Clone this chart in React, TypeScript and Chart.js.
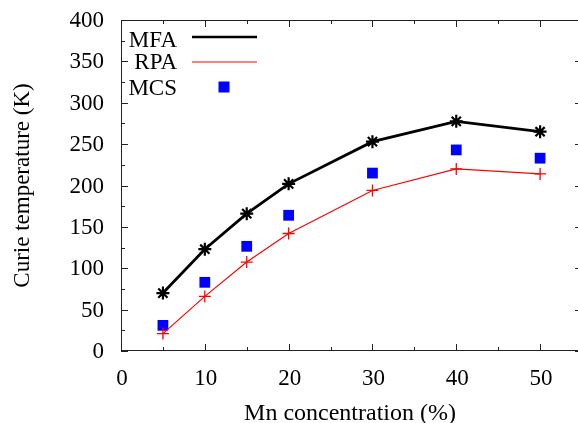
import React, { useEffect, useRef } from "react";
import { Chart, registerables } from "chart.js";

Chart.register(...registerables);

const mnConcentration = [5, 10, 15, 20, 30, 40, 50];
const mfaValues = [70, 123, 166, 202, 253, 277.5, 265];
const rpaValues = [21, 66, 107.5, 142, 194, 220, 214];
const mcsValues = [31, 83, 126.5, 164, 215, 243, 233];
const xTickValues = [0, 10, 20, 30, 40, 50];
const xMinorTicks = [5, 15, 25, 35, 45, 55];
const yTickValues = [0, 50, 100, 150, 200, 250, 300, 350, 400];
const yMinorTicks = [25, 75, 125, 175, 225, 275, 325, 375];
const seriesNames = ["MFA", "RPA", "MCS"];
const xTitle = "Mn concentration (%)";
const yTitle = "Curie temperature (K)";

const FONT = "'Liberation Serif', 'Times New Roman', serif";

const framePlugin = {
  id: "frame",
  afterDatasetsDraw(chart: any) {
    const { ctx, chartArea, scales } = chart;
    const { left, right, top, bottom } = chartArea;
    const x = scales.x;
    const y = scales.y;
    ctx.save();
    ctx.strokeStyle = "#222";
    ctx.lineWidth = 1;
    ctx.strokeRect(Math.round(left) + 0.5, Math.round(top) + 0.5, right - left - 1, bottom - top - 1);
    ctx.beginPath();
    const drawX = (vals: number[], len: number) => {
      vals.forEach((v) => {
        const px = Math.round(x.getPixelForValue(v)) + 0.5;
        if (px < left || px > right) return;
        ctx.moveTo(px, bottom);
        ctx.lineTo(px, bottom - len);
        ctx.moveTo(px, top);
        ctx.lineTo(px, top + len);
      });
    };
    const drawY = (vals: number[], len: number) => {
      vals.forEach((v) => {
        const py = Math.round(y.getPixelForValue(v)) + 0.5;
        ctx.moveTo(left, py);
        ctx.lineTo(left + len, py);
        ctx.moveTo(right, py);
        ctx.lineTo(right - len, py);
      });
    };
    drawX(xTickValues, 7);
    drawX(xMinorTicks, 4);
    drawY(yTickValues, 7);
    drawY(yMinorTicks, 4);
    ctx.stroke();

    // tick labels
    ctx.fillStyle = "#000";
    ctx.font = `23px ${FONT}`;
    ctx.textAlign = "right";
    ctx.textBaseline = "middle";
    yTickValues.forEach((v) => {
      ctx.fillText(String(v), left - 17, y.getPixelForValue(v) + 1);
    });
    ctx.textAlign = "center";
    ctx.textBaseline = "alphabetic";
    xTickValues.forEach((v) => {
      ctx.fillText(String(v), x.getPixelForValue(v) + 1, bottom + 34);
    });

    // axis titles
    ctx.font = `24px ${FONT}`;
    ctx.fillText(xTitle, 350, bottom + 69);
    ctx.save();
    ctx.translate(29, (top + bottom) / 2);
    ctx.rotate(-Math.PI / 2);
    ctx.font = `23px ${FONT}`;
    ctx.fillText(yTitle, 0, 0);
    ctx.restore();

    // legend
    ctx.font = `23px ${FONT}`;
    ctx.fillStyle = "#000";
    ctx.textAlign = "right";
    ctx.textBaseline = "alphabetic";
    const textRight = left + 56;
    const lx0 = left + 71;
    const lx1 = left + 136;
    const baselines = [top + 27, top + 49, top + 75];
    const rows = [top + 17, top + 42, top + 67];
    seriesNames.forEach((n, i) => ctx.fillText(n, textRight, baselines[i]));
    ctx.beginPath();
    ctx.strokeStyle = "#000";
    ctx.lineWidth = 2.5;
    ctx.moveTo(lx0, rows[0]);
    ctx.lineTo(lx1, rows[0]);
    ctx.stroke();
    ctx.beginPath();
    ctx.strokeStyle = "#ff0000";
    ctx.lineWidth = 1.2;
    ctx.moveTo(lx0, rows[1]);
    ctx.lineTo(lx1, rows[1]);
    ctx.stroke();
    ctx.fillStyle = "#0000ff";
    const cx = left + 103;
    ctx.fillRect(cx - 5.5, rows[2] - 5.5, 11, 11);
    ctx.restore();
  },
};

export default function App() {
  const canvasRef = useRef<HTMLCanvasElement | null>(null);

  useEffect(() => {
    if (!canvasRef.current) return;
    const chart = new Chart(canvasRef.current, {
      type: "line",
      data: {
        datasets: [
          {
            label: seriesNames[0],
            data: mnConcentration.map((x, i) => ({ x, y: mfaValues[i] })),
            borderColor: "#000",
            backgroundColor: "#000",
            borderWidth: 2.8,
            pointStyle: "star",
            pointRadius: 6.5,
            pointBorderWidth: 2.2,
            tension: 0,
          },
          {
            label: seriesNames[1],
            data: mnConcentration.map((x, i) => ({ x, y: rpaValues[i] })),
            borderColor: "#ff0000",
            backgroundColor: "#ff0000",
            borderWidth: 1.2,
            pointStyle: "cross",
            pointRadius: 6,
            pointBorderWidth: 1.3,
            tension: 0,
          },
          {
            label: seriesNames[2],
            data: mnConcentration.map((x, i) => ({ x, y: mcsValues[i] })),
            borderColor: "#0000ff",
            backgroundColor: "#0000ff",
            showLine: false,
            pointStyle: "rect",
            pointRadius: 7.6,
            pointBorderWidth: 0,
          },
        ],
      },
      options: {
        animation: false,
        responsive: false,
        maintainAspectRatio: false,
        layout: { autoPadding: false, padding: { top: 20, right: 2, left: 0, bottom: 0 } },
        plugins: {
          legend: { display: false },
          tooltip: { enabled: false },
        },
        scales: {
          x: {
            type: "linear",
            min: 0,
            max: 55,
            afterBuildTicks: (s: any) => {
              s.ticks = xTickValues.map((v) => ({ value: v }));
            },
            afterFit: (s: any) => {
              s.height = 72;
              s.paddingLeft = 0;
              s.paddingRight = 0;
            },
            grid: { display: false },
            border: { display: false },
            ticks: { display: false },
          },
          y: {
            type: "linear",
            min: 0,
            max: 400,
            afterBuildTicks: (s: any) => {
              s.ticks = yTickValues.map((v) => ({ value: v }));
            },
            afterFit: (s: any) => {
              s.width = 121;
              s.paddingTop = 0;
              s.paddingBottom = 0;
            },
            grid: { display: false },
            border: { display: false },
            ticks: { display: false },
          },
        },
      },
      plugins: [framePlugin],
    });
    return () => chart.destroy();
  }, []);

  return (
    <div style={{ position: "absolute", left: 0, top: 0, width: 578, height: 423, overflow: "hidden", background: "#fff" }}>
      <div style={{ width: 584, height: 423 }}>
        <canvas ref={canvasRef} width={584} height={423} style={{ width: 584, height: 423, display: "block" }} />
      </div>
    </div>
  );
}
